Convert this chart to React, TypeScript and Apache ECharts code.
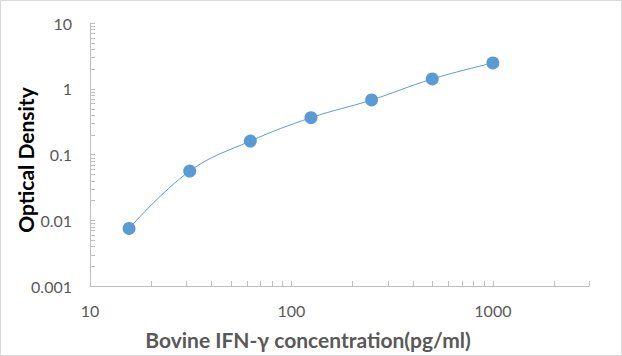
import React, { useEffect, useRef } from "react";
import * as echarts from "echarts";

const concentrations = [15.625, 31.25, 62.5, 125, 250, 500, 1000];
const opticalDensity = [0.0075, 0.056, 0.16, 0.363, 0.675, 1.41, 2.47];
const xMinorTicks = [20, 30, 40, 50, 60, 70, 80, 90, 200, 300, 400, 500, 600, 700, 800, 900, 2000, 3000];
const yMinorTicks = [
  0.002, 0.003, 0.004, 0.005, 0.006, 0.007, 0.008, 0.009,
  0.02, 0.03, 0.04, 0.05, 0.06, 0.07, 0.08, 0.09,
  0.2, 0.3, 0.4, 0.5, 0.6, 0.7, 0.8, 0.9,
  2, 3, 4, 5, 6, 7, 8, 9,
];
const xTitle = "Bovine IFN-γ concentration(pg/ml)";
const yTitle = "Optical Density";

const AXIS_COLOR = "#bfbfbf";
const LABEL_COLOR = "#595959";
const FONT = "Lato, 'Liberation Sans', sans-serif";

export default function App() {
  const ref = useRef<HTMLDivElement>(null);
  useEffect(() => {
    document.body.style.margin = "0";
    const chart = echarts.init(ref.current!, undefined, { renderer: "svg" });
    const fmt = (v: number) => String(+Number(v).toPrecision(3));
    chart.setOption({
      animation: false,
      backgroundColor: "#ffffff",
      grid: { left: 90, right: 33, top: 23, bottom: 70, containLabel: false },
      xAxis: {
        type: "log",
        logBase: 10,
        min: 10,
        max: 3000,
        axisLine: { lineStyle: { color: AXIS_COLOR, width: 1 } },
        axisTick: { show: true, inside: true, length: 5, lineStyle: { color: AXIS_COLOR } },
        splitLine: { show: false },
        minorTick: { show: false },
        axisLabel: {
          color: LABEL_COLOR,
          fontFamily: FONT,
          fontSize: 16,
          margin: 16,
          showMaxLabel: false,
          formatter: fmt,
        },
      },
      yAxis: {
        type: "log",
        logBase: 10,
        min: 0.001,
        max: 10,
        axisLine: { show: true, lineStyle: { color: AXIS_COLOR, width: 1 } },
        axisTick: { show: true, inside: true, length: 5, lineStyle: { color: AXIS_COLOR } },
        splitLine: { show: false },
        minorTick: { show: false },
        axisLabel: {
          color: LABEL_COLOR,
          fontFamily: FONT,
          fontSize: 16,
          margin: 18,
          formatter: fmt,
        },
      },
      graphic: [
        {
          type: "rect",
          shape: { x: 0.5, y: 0.5, width: 621, height: 355 },
          style: { fill: "none", stroke: "#d9d9d9", lineWidth: 1 },
          silent: true,
        },
        {
          type: "text",
          x: 308,
          y: 339,
          style: {
            text: xTitle,
            fill: LABEL_COLOR,
            font: `bold 21px ${FONT}`,
            textAlign: "center",
            textVerticalAlign: "middle",
          },
        },
        {
          type: "text",
          x: 25,
          y: 160,
          rotation: Math.PI / 2,
          style: {
            text: yTitle,
            fill: "#000000",
            font: `bold 21px ${FONT}`,
            textAlign: "center",
            textVerticalAlign: "middle",
          },
        },
      ],
      series: [
        {
          type: "custom",
          data: xMinorTicks.map((v) => [v, 0.001]),
          clip: false,
          silent: true,
          renderItem: (params: any, api: any) => {
            const p = api.coord([api.value(0), api.value(1)]);
            const x = Math.round(p[0]) + 0.5;
            return {
              type: "line",
              shape: { x1: x, y1: p[1], x2: x, y2: p[1] - 5 },
              style: { stroke: AXIS_COLOR, lineWidth: 1 },
            };
          },
          z: 1,
        },
        {
          type: "custom",
          data: yMinorTicks.map((v) => [10, v]),
          clip: false,
          silent: true,
          renderItem: (params: any, api: any) => {
            const p = api.coord([api.value(0), api.value(1)]);
            const y = Math.round(p[1]) + 0.5;
            return {
              type: "line",
              shape: { x1: p[0], y1: y, x2: p[0] + 5, y2: y },
              style: { stroke: AXIS_COLOR, lineWidth: 1 },
            };
          },
          z: 1,
        },
        {
          type: "line",
          data: concentrations.map((c, i) => [c, opticalDensity[i]]),
          smooth: 0.4,
          symbol: "circle",
          symbolSize: 13,
          lineStyle: { color: "#5B9BD5", width: 1 },
          itemStyle: { color: "#5B9BD5" },
          z: 3,
        },
      ],
    });
    return () => chart.dispose();
  }, []);
  return (
    <div
      ref={ref}
      style={{ position: "absolute", left: 0, top: 0, width: 622, height: 356 }}
    />
  );
}
